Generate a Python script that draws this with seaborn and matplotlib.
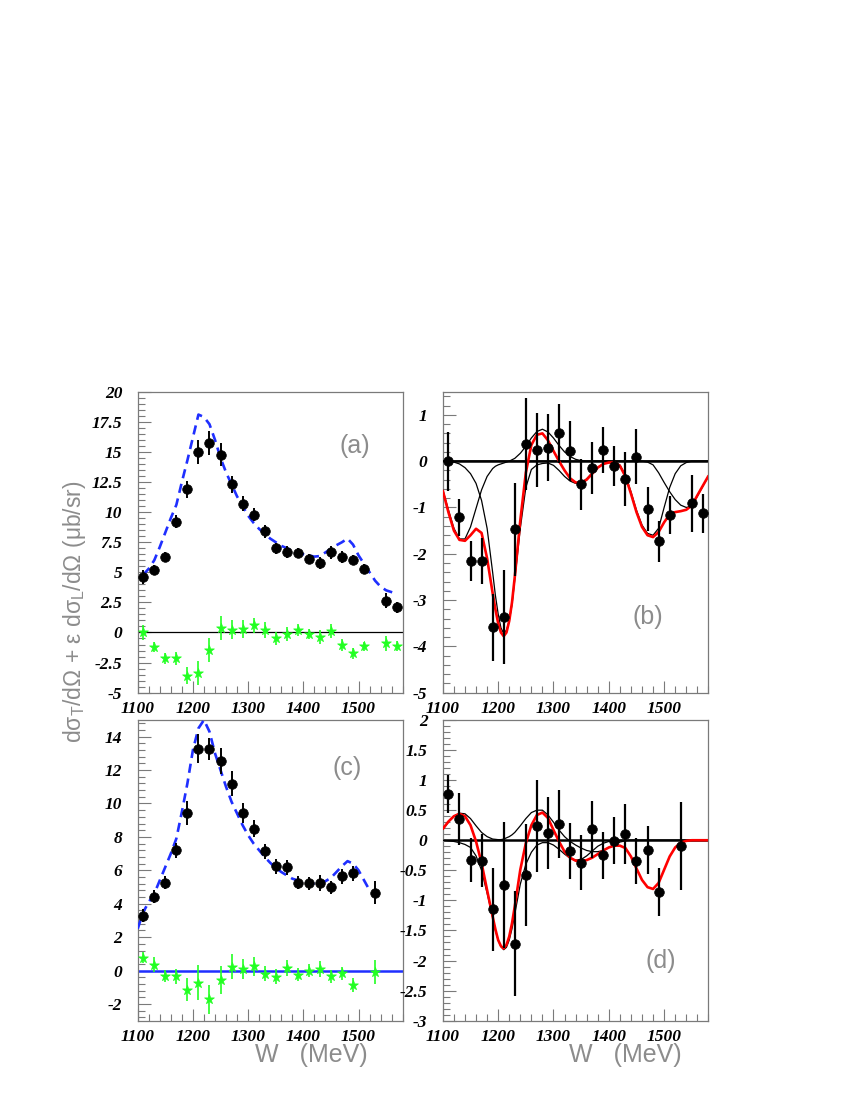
import numpy as np
import pandas as pd
import matplotlib
matplotlib.use('Agg')
import matplotlib.pyplot as plt
import seaborn as sns
from matplotlib.ticker import MultipleLocator, FuncFormatter

# ---- data ----
# W grid (MeV) for panels (a),(b)
W_ab = [1110, 1130, 1150, 1170, 1190, 1210, 1230, 1250, 1270, 1290, 1310, 1330,
        1350, 1370, 1390, 1410, 1430, 1450, 1470, 1490, 1510, 1550, 1570]
sig_a = [4.6, 5.2, 6.3, 9.2, 11.9, 15.0, 15.75, 14.75, 12.3, 10.7, 9.8, 8.4,
         7.0, 6.65, 6.6, 6.1, 5.8, 6.65, 6.3, 6.05, 5.25, 2.65, 2.1]
err_a = [0.55, 0.4, 0.4, 0.55, 0.7, 1.0, 1.0, 0.95, 0.7, 0.65, 0.55, 0.55,
         0.45, 0.5, 0.45, 0.4, 0.5, 0.55, 0.5, 0.4, 0.4, 0.6, 0.45]
# interference term (green stars in (a), points in (b))
sig_b = [0.0, -1.21, -2.16, -2.16, -3.59, -3.37, -1.47, 0.37, 0.24, 0.29, 0.6, 0.22,
         -0.5, -0.14, 0.24, -0.1, -0.39, 0.1, -1.03, -1.73, -1.16, -0.91, -1.13]
err_b = [0.64, 0.4, 0.43, 0.5, 0.72, 1.02, 1.0, 1.0, 0.8, 0.72, 0.64, 0.64,
         0.55, 0.56, 0.5, 0.43, 0.58, 0.6, 0.47, 0.44, 0.41, 0.62, 0.43]

# W grid for panels (c),(d)
W_cd = [1110, 1130, 1150, 1170, 1190, 1210, 1230, 1250, 1270, 1290, 1310, 1330,
        1350, 1370, 1390, 1410, 1430, 1450, 1470, 1490, 1530]
sig_c = [3.29, 4.42, 5.26, 7.19, 9.42, 13.29, 13.25, 12.55, 11.18, 9.44, 8.49, 7.15,
         6.24, 6.18, 5.26, 5.22, 5.24, 4.98, 5.64, 5.82, 4.66]
err_c = [0.4, 0.4, 0.4, 0.45, 0.7, 0.85, 0.65, 0.8, 0.75, 0.6, 0.5, 0.45,
         0.45, 0.45, 0.4, 0.4, 0.45, 0.4, 0.45, 0.45, 0.7]
sig_d = [0.77, 0.355, -0.33, -0.34, -1.15, -0.74, -1.72, -0.58, 0.24, 0.12, 0.27, -0.18,
         -0.37, 0.18, -0.25, -0.01, 0.1, -0.34, -0.16, -0.86, -0.09]
err_d = [0.32, 0.43, 0.37, 0.44, 0.69, 1.05, 0.87, 0.85, 0.76, 0.6, 0.57, 0.47,
         0.46, 0.48, 0.39, 0.39, 0.5, 0.38, 0.4, 0.4, 0.73]

# model curves (blue dashed)
W_mod_a = list(range(1110, 1571, 10))
mod_a = [4.8, 5.3, 6.0, 7.1, 8.3, 9.5, 10.6, 12.5, 14.3, 16.2, 18.1, 17.9, 17.3, 16.0,
         14.5, 13.3, 12.3, 11.3, 10.5, 9.7, 9.1, 8.6, 8.2, 7.8, 7.5, 7.2, 7.0, 6.8,
         6.65, 6.5, 6.4, 6.3, 6.35, 6.65, 6.95, 7.25, 7.5, 7.8, 7.3, 6.4, 5.7, 5.0,
         4.3, 3.8, 3.5, 3.35, 3.2]
W_mod_c = list(range(1100, 1521, 10))
mod_c = [2.5, 3.5, 4.1, 4.6, 5.4, 6.2, 7.0, 7.9, 9.5, 11.2, 13.2, 14.5, 15.0, 14.3,
         13.0, 12.0, 11.0, 10.1, 9.4, 8.7, 8.1, 7.6, 7.2, 6.8, 6.45, 6.15, 5.9, 5.7,
         5.5, 5.4, 5.3, 5.25, 5.2, 5.2, 5.35, 5.55, 5.9, 6.25, 6.55, 6.4, 6.0, 5.4, 4.8]

# fit curves (red total, black components): 10 MeV steps, 5 MeV around the Delta dip
W_fit = [1100, 1110, 1120, 1130, 1140, 1150, 1160, 1170, 1180, 1190,
         1195, 1200, 1205, 1210, 1215, 1220, 1225, 1230,
         1240, 1250, 1260, 1270, 1280, 1290, 1300, 1310, 1320, 1330, 1340, 1350,
         1360, 1370, 1380, 1390, 1400, 1410, 1420, 1430, 1440, 1450, 1460, 1470,
         1480, 1490, 1500, 1510, 1520, 1530, 1540, 1550, 1560, 1570, 1580]
fit_b = [-0.64, -1.1, -1.5, -1.7, -1.72, -1.6, -1.46, -1.55, -2.1, -2.85,
         -3.2, -3.5, -3.7, -3.78, -3.7, -3.45, -3.05, -2.5,
         -1.28, -0.25, 0.35, 0.57, 0.6, 0.45, 0.22, 0.0, -0.2, -0.37, -0.46, -0.47,
         -0.4, -0.27, -0.14, -0.06, -0.03, -0.03, -0.1, -0.33, -0.7, -1.1, -1.42, -1.6,
         -1.64, -1.53, -1.32, -1.15, -1.1, -1.08, -1.05, -0.96, -0.74, -0.53, -0.32]
comp_b1 = [-0.62, -1.05, -1.45, -1.68, -1.68, -1.42, -1.02, -0.62, -0.33, -0.16,
           -0.11, -0.08, -0.06, -0.04, -0.02, 0.0, 0.03, 0.06,
           0.17, 0.32, 0.5, 0.64, 0.69, 0.63, 0.5, 0.34, 0.2, 0.1, 0.04, 0.01,
           0.0] + [0.0] * 22
comp_b2 = [0.0, 0.0, -0.02, -0.06, -0.14, -0.27, -0.48, -0.85, -1.45, -2.4,
           -2.9, -3.3, -3.6, -3.72, -3.65, -3.45, -3.1, -2.56,
           -1.45, -0.57, -0.18, -0.08, -0.05, -0.04, -0.09, -0.2, -0.33, -0.43, -0.48,
           -0.47, -0.38, -0.25, -0.13, -0.06, -0.02, 0.0] + [0.0] * 17
comp_b3 = [0.0] * 35 + [-0.02, -0.08, -0.3, -0.66, -1.06, -1.38, -1.56,
                        -1.6, -1.45, -1.0, -0.57, -0.27, -0.1, -0.03, 0.0, 0.0, 0.0, 0.0]
comp_b4 = [0.0] * 41 + [-0.02, -0.08, -0.25, -0.46, -0.66, -0.83, -0.95, -1.0,
                        -0.97, -0.76, -0.54, -0.32]

fit_d = [0.19, 0.31, 0.4, 0.44, 0.4, 0.25, -0.02, -0.38, -0.83, -1.27,
         -1.48, -1.66, -1.76, -1.8, -1.74, -1.6, -1.38, -1.1,
         -0.49, -0.05, 0.25, 0.42, 0.46, 0.37, 0.17, -0.02, -0.19, -0.29, -0.34, -0.35,
         -0.33, -0.29, -0.23, -0.17, -0.12, -0.09, -0.09, -0.13, -0.27, -0.47, -0.66,
         -0.78, -0.81, -0.71, -0.49, -0.27, -0.12, -0.04, -0.01, 0.0, 0.0, 0.0, 0.0]
comp_d1 = [0.18, 0.3, 0.4, 0.45, 0.44, 0.36, 0.24, 0.13, 0.06, 0.02,
           0.015, 0.01, 0.01, 0.02, 0.04, 0.06, 0.09, 0.13,
           0.24, 0.36, 0.46, 0.5, 0.5, 0.42, 0.3, 0.17, 0.06, -0.02, -0.08, -0.13,
           -0.17, -0.19, -0.19, -0.17, -0.12, -0.07, -0.03, -0.01] + [0.0] * 15
comp_d2 = [0.0, -0.01, -0.02, -0.04, -0.07, -0.12, -0.26, -0.5, -0.88, -1.28,
           -1.5, -1.66, -1.77, -1.82, -1.78, -1.66, -1.47, -1.23,
           -0.73, -0.4, -0.2, -0.08, -0.04, -0.04, -0.08, -0.15, -0.23, -0.3, -0.33,
           -0.32, -0.26, -0.18, -0.1, -0.05, -0.02, 0.0] + [0.0] * 17

# ---- style ----
sns.set_theme(style='ticks')
# tick labels: bold italic Times-like
plt.rcParams['font.family'] = ['Liberation Serif', 'DejaVu Serif']
plt.rcParams['font.weight'] = 'bold'
plt.rcParams['font.style'] = 'italic'
plt.rcParams['axes.unicode_minus'] = False
plt.rcParams['mathtext.fontset'] = 'custom'
plt.rcParams['mathtext.rm'] = 'Liberation Sans:style=normal:weight=normal'
GRAY = '#7a7a7a'
LABFONT = dict(family=['Liberation Sans', 'DejaVu Sans'], weight='normal', style='normal',
               color='#8c8c8c')

fig = plt.figure(figsize=(8.5, 11), dpi=100)
ax_a = fig.add_axes([0.162, 0.3703, 0.3118, 0.2736])
ax_b = fig.add_axes([0.521, 0.3703, 0.3124, 0.2736])
ax_c = fig.add_axes([0.162, 0.0721, 0.3118, 0.2734])
ax_d = fig.add_axes([0.521, 0.0721, 0.3124, 0.2734])


def style_axis(ax, ylim, ymajor, yminor):
    ax.set_xlim(1100, 1580)
    ax.set_ylim(*ylim)
    ax.xaxis.set_major_locator(MultipleLocator(100))
    ax.xaxis.set_minor_locator(MultipleLocator(20))
    ax.yaxis.set_major_locator(MultipleLocator(ymajor))
    ax.yaxis.set_minor_locator(MultipleLocator(yminor))
    ax.xaxis.set_major_formatter(FuncFormatter(lambda v, p: '%d' % v if v < 1560 else ''))
    ax.yaxis.set_major_formatter(FuncFormatter(lambda v, p: '%g' % round(v, 3)))
    ax.tick_params(which='both', direction='in', top=False, right=False,
                   color=GRAY, width=0.8, labelcolor='black', labelsize=12.5)
    ax.tick_params(which='major', length=9)
    ax.tick_params(which='minor', length=5)
    ax.tick_params(axis='y', which='major', pad=11)
    ax.tick_params(axis='x', which='major', pad=6)
    for sp in ax.spines.values():
        sp.set_color(GRAY)
        sp.set_linewidth(0.9)
    ax.set_xlabel('')
    ax.set_ylabel('')


def draw_points(ax, w, y, e, color, marker, size, elw):
    ax.errorbar(w, y, yerr=e, fmt='none', ecolor=color, elinewidth=elw, capsize=0, zorder=4)
    sns.scatterplot(x=w, y=y, ax=ax, color=color, marker=marker, s=size,
                    edgecolor=color, linewidth=0.5, zorder=5, legend=False)


def curve(ax, w, y, color, lw, **kw):
    sns.lineplot(x=w, y=y, ax=ax, color=color, lw=lw, sort=False, estimator=None,
                 legend=False, **kw)


# (a)
ax_a.axhline(0, color='black', lw=0.9, zorder=2)
curve(ax_a, W_mod_a, mod_a, '#1f2fff', 1.9, dashes=(3.5, 2.2), zorder=3)
draw_points(ax_a, W_ab, sig_a, err_a, 'black', 'o', 48, 1.4)
draw_points(ax_a, W_ab, sig_b, err_b, '#22ff22', '*', 55, 1.2)
style_axis(ax_a, (-5, 20), 2.5, 0.5)

# (b)
ax_b.axhline(0, color='black', lw=1.8, zorder=2)
for comp in (comp_b1, comp_b2, comp_b3, comp_b4):
    curve(ax_b, W_fit, comp, 'black', 0.9, zorder=3)
curve(ax_b, W_fit, fit_b, '#ff0000', 1.9, zorder=4)
draw_points(ax_b, W_ab, sig_b, err_b, 'black', 'o', 48, 1.6)
style_axis(ax_b, (-5, 1.5), 1, 0.2)

# (c)
ax_c.axhline(0, color='#1f2fff', lw=1.8, zorder=2)
curve(ax_c, W_mod_c, mod_c, '#1f2fff', 1.9, dashes=(3.5, 2.2), zorder=3)
draw_points(ax_c, W_cd, sig_c, err_c, 'black', 'o', 48, 1.4)
draw_points(ax_c, W_cd, sig_d, err_d, '#22ff22', '*', 55, 1.2)
style_axis(ax_c, (-3, 15), 2, 0.4)

# (d)
ax_d.axhline(0, color='black', lw=1.8, zorder=2)
for comp in (comp_d1, comp_d2):
    curve(ax_d, W_fit, comp, 'black', 0.9, zorder=3)
curve(ax_d, W_fit, fit_d, '#ff0000', 1.9, zorder=4)
draw_points(ax_d, W_cd, sig_d, err_d, 'black', 'o', 48, 1.6)
style_axis(ax_d, (-3, 2), 0.5, 0.1)

# panel tags
for ax, tag, xy in ((ax_a, '(a)', (0.82, 0.82)), (ax_b, '(b)', (0.77, 0.25)),
                    (ax_c, '(c)', (0.79, 0.84)), (ax_d, '(d)', (0.82, 0.2))):
    ax.text(xy[0], xy[1], tag, transform=ax.transAxes, ha='center', va='center',
            fontsize=18, **LABFONT)

# axis titles
fig.text(0.088, 0.4436, 'd\u03c3$_{\\rm T}$/d\u03a9 + \u03b5 d\u03c3$_{\\rm L}$/d\u03a9 (\u03bcb/sr)',
         rotation=90, ha='center', va='center', fontsize=16.5, **LABFONT)
for x_right in (368 / 850, 682 / 850):
    fig.text(x_right, 1 - 1055 / 1100, 'W   (MeV)', ha='right', va='center',
             fontsize=18, **LABFONT)

fig.savefig('out.png', dpi=100)
